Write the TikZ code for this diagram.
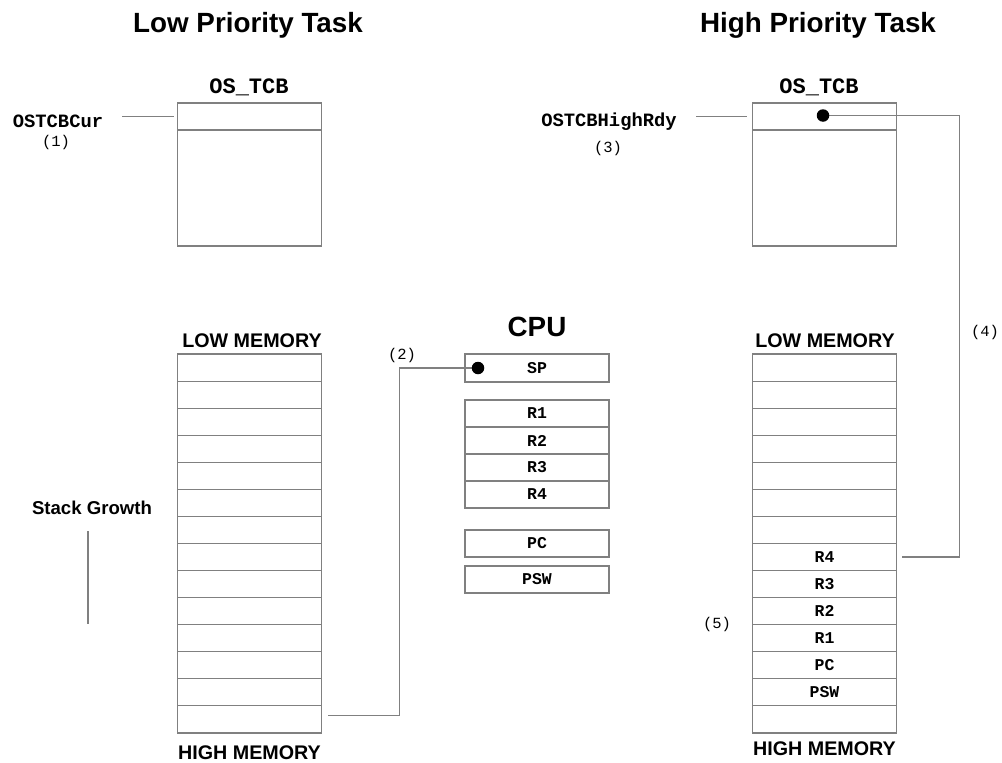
\documentclass[tikz,border=0pt]{standalone}
\usepackage{fontspec}
\setmainfont{Liberation Sans}
\setmonofont{Liberation Mono}
\usepackage{xcolor}
\usepackage{tikz}
\usetikzlibrary{calc,positioning}
\definecolor{linegray}{RGB}{128,128,128}

\begin{document}
\begin{tikzpicture}[
  x=1pt,y=-1pt,
  title/.style={font=\fontsize{27.8}{30}\selectfont\bfseries,inner sep=0pt},
  memlabel/.style={font=\fontsize{19.7}{22}\selectfont\bfseries,inner sep=0pt},
  ptrname/.style={font=\fontsize{18.8}{21}\selectfont\ttfamily\bfseries,inner sep=0pt},
  stepnum/.style={font=\fontsize{15.5}{18}\selectfont\ttfamily,inner sep=0pt},
  cell/.style={draw=linegray,line width=1.1pt,minimum width=144pt,minimum height=27.07pt,
               inner sep=0pt,font=\fontsize{16.5}{18}\selectfont\ttfamily\bfseries},
  tcb/.style={draw=linegray,line width=1.1pt,minimum width=144pt,inner sep=0pt},
  link/.style={draw=linegray,line width=1.1pt},
  ptrdot/.style={circle,fill=black,inner sep=0pt,minimum size=12.5pt}
]
\useasboundingbox (0,0) rectangle (1002,763);

\node[title] (lowtitle) at (248,25) {Low Priority Task};
\node[title] (hightitle) at (818,25) {High Priority Task};

\node[ptrname,font=\fontsize{22}{24}\selectfont\ttfamily\bfseries] (lotcbname) at (249,87) {OS\_TCB};
\node[tcb,minimum height=143pt] (lotcb) at (249.5,174.5) {};
\node[tcb,minimum height=27pt] (lotcbtop) at (249.5,116.5) {};

\node[ptrname,font=\fontsize{22}{24}\selectfont\ttfamily\bfseries] (hitcbname) at (819,87) {OS\_TCB};
\node[tcb,minimum height=143pt] (hitcb) at (824.5,174.5) {};
\node[tcb,minimum height=27pt] (hitcbtop) at (824.5,116.5) {};

\node[ptrname] (cur) at (58,121) {OSTCBCur};
\node[stepnum] (step1) at (56,142) {(1)};
\coordinate (curend) at (122,116.5);
\draw[link] (curend) -- ([xshift=-3pt]lotcbtop.west);

\node[ptrname] (highrdy) at (609,122) {OSTCBHighRdy};
\node[stepnum] (step3) at (608,148) {(3)};
\coordinate (rdyend) at (696,116.5);
\draw[link] (rdyend) -- ([xshift=-5pt]hitcbtop.west);

\node[memlabel] (lolow) at (252,341) {LOW MEMORY};
\node[memlabel] (lohigh) at (249.5,753) {HIGH MEMORY};
\foreach \i in {1,...,14}
  \node[cell] (lo\i) at (249.5,{354+13.535+(\i-1)*27.07}) {};

\node[memlabel] (hilow) at (825,341) {LOW MEMORY};
\node[memlabel] (hihigh) at (824.5,749) {HIGH MEMORY};
\foreach \t [count=\i] in {{},{},{},{},{},{},{},R4,R3,R2,R1,PC,PSW,{}}
  \node[cell] (hi\i) at (824.5,{354+13.535+(\i-1)*27.07}) {\t};

\node[title] (cpu) at (537,327) {CPU};
\node[cell,minimum height=28pt] (sp) at (537,368) {SP};
\foreach \t [count=\i] in {R1,R2,R3,R4}
  \node[cell,minimum height=27pt] (r\i) at (537,{413.5+(\i-1)*27}) {\t};
\node[cell,minimum height=27pt] (pc) at (537,543.5) {PC};
\node[cell,minimum height=27pt] (psw) at (537,579.5) {PSW};

\coordinate (spptr) at (478,368);
\node[stepnum] (step2) at (402,355) {(2)};
\coordinate (rail2) at (399.5,0);
\draw[link] (spptr) -| ([yshift=4pt]rail2 |- lo14) -- ([xshift=6pt,yshift=4pt]lo14.east);
\node[ptrdot] (spdot) at (spptr) {};

\coordinate (hiptr) at (823,115.5);
\node[stepnum] (step4) at (985,332) {(4)};
\coordinate (rail4) at (959.5,0);
\draw[link] (hiptr) -| (rail4 |- hi8) -- ([xshift=5pt]hi8.east);
\node[ptrdot] (hidot) at (hiptr) {};

\node[stepnum] (step5) at (717,624) {(5)};

\node[memlabel,font=\fontsize{18.6}{21}\selectfont\bfseries] (growth) at (92,508) {Stack Growth};
\coordinate (growtop) at (88,531);
\coordinate (growbot) at (88,624);
\draw[link] (growtop) -- (growbot);
\end{tikzpicture}
\end{document}
